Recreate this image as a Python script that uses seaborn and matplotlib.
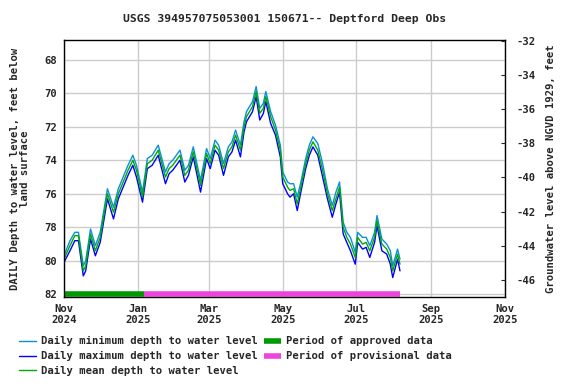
import pandas as pd
import seaborn as sns
import matplotlib.pyplot as plt

days = [0, 5, 9, 12, 16, 18, 22, 26, 30, 33, 36, 41, 45, 49, 53, 57, 60, 65, 69, 73,
        78, 84, 87, 90, 96, 100, 103, 107, 113, 118, 121, 125, 128, 132, 136, 139, 142, 146, 149, 151,
        156, 159, 162, 165, 167, 171, 175, 179, 181, 185, 187, 190, 193, 196, 200, 203, 206, 210, 214, 218,
        222, 225, 228, 231, 234, 237, 241, 243, 247, 250, 253, 257, 259, 263, 267, 270, 272, 276, 278]

mean_depth = [79.9, 79.1, 78.5, 78.5, 80.6, 80.3, 78.4, 79.4, 78.6, 77.3, 76.0, 77.1, 76.0, 75.3, 74.6, 74.0, 74.6, 76.2, 74.2, 74.0,
              73.4, 75.0, 74.5, 74.3, 73.7, 74.9, 74.6, 73.5, 75.5, 73.6, 74.2, 73.1, 73.4, 74.5, 73.5, 73.2, 72.5, 73.4, 72.0, 71.4,
              70.8, 69.9, 71.2, 70.9, 70.2, 71.4, 72.2, 73.4, 75.0, 75.6, 75.8, 75.7, 76.6, 75.6, 74.2, 73.4, 72.9, 73.4, 74.6, 76.0,
              77.0, 76.3, 75.6, 78.0, 78.6, 79.0, 79.8, 78.6, 79.0, 78.9, 79.4, 78.6, 77.6, 79.0, 79.3, 79.8, 80.6, 79.6, 80.2]

min_depth = [79.7, 78.8, 78.3, 78.3, 80.3, 80.0, 78.1, 79.1, 78.3, 77.0, 75.7, 76.8, 75.7, 75.0, 74.3, 73.7, 74.3, 75.9, 73.9, 73.7,
             73.1, 74.7, 74.2, 74.0, 73.4, 74.6, 74.3, 73.2, 75.2, 73.3, 73.9, 72.8, 73.1, 74.2, 73.2, 72.9, 72.2, 73.1, 71.7, 71.1,
             70.5, 69.6, 70.9, 70.6, 69.9, 71.1, 71.9, 73.1, 74.7, 75.3, 75.4, 75.4, 76.2, 75.3, 73.9, 73.1, 72.6, 73.0, 74.2, 75.7,
             76.7, 75.9, 75.3, 77.7, 78.3, 78.6, 79.5, 78.3, 78.6, 78.6, 79.1, 78.3, 77.3, 78.7, 79.0, 79.4, 80.3, 79.3, 79.9]

max_depth = [80.1, 79.4, 78.8, 78.8, 80.9, 80.6, 78.7, 79.7, 78.9, 77.6, 76.3, 77.5, 76.3, 75.6, 74.9, 74.3, 75.0, 76.5, 74.5, 74.3,
             73.7, 75.4, 74.8, 74.6, 74.0, 75.3, 74.9, 73.8, 75.9, 73.9, 74.5, 73.4, 73.7, 74.9, 73.8, 73.5, 72.8, 73.8, 72.3, 71.7,
             71.1, 70.2, 71.6, 71.2, 70.5, 71.8, 72.5, 73.8, 75.4, 76.0, 76.2, 76.0, 77.0, 75.9, 74.5, 73.7, 73.2, 73.7, 75.0, 76.3,
             77.4, 76.6, 75.9, 78.4, 78.9, 79.4, 80.2, 78.9, 79.3, 79.2, 79.8, 78.9, 77.9, 79.4, 79.6, 80.2, 81.0, 79.9, 80.6]

start = pd.Timestamp("2024-11-01")
dates = start + pd.to_timedelta(days, unit="D")

approved_period = ["2024-11-01", "2025-01-06"]
provisional_period = ["2025-01-06", "2025-08-06"]

month_ticks = pd.date_range("2024-11-01", "2025-11-01", freq="2MS")
month_labels = [d.strftime("%b\n%Y") for d in month_ticks]

sns.set_style("white")
plt.rcParams["font.family"] = ["DejaVu Sans Mono"]
plt.rcParams["font.weight"] = "bold"
plt.rcParams["axes.titleweight"] = "bold"
plt.rcParams["axes.labelweight"] = "bold"
plt.rcParams["axes.unicode_minus"] = False

fig = plt.figure(figsize=(5.76, 3.84), dpi=100)
ax = fig.add_axes([0.111, 0.227, 0.766, 0.669])

df = pd.DataFrame({"date": dates, "min": min_depth, "max": max_depth, "mean": mean_depth})

sns.lineplot(data=df, x="date", y="min", ax=ax, color="#0a8fdc", lw=1,
             label="Daily minimum depth to water level")
sns.lineplot(data=df, x="date", y="max", ax=ax, color="#0000ff", lw=1,
             label="Daily maximum depth to water level")
sns.lineplot(data=df, x="date", y="mean", ax=ax, color="#00aa00", lw=1,
             label="Daily mean depth to water level")

ax.plot(pd.to_datetime(approved_period), [82, 82], color="#009900", lw=4,
        solid_capstyle="butt", label="Period of approved data")
ax.plot(pd.to_datetime(provisional_period), [82, 82], color="#ee44dd", lw=4,
        solid_capstyle="butt", label="Period of provisional data")

ax.set_xlim(pd.Timestamp("2024-11-01"), pd.Timestamp("2025-11-01"))
ax.set_ylim(82.15, 66.82)
ax.set_yticks([68, 70, 72, 74, 76, 78, 80, 82])
ax.set_xticks(month_ticks)
ax.set_xticklabels(month_labels)
ax.grid(True, color="#cccccc", lw=1)
ax.tick_params(labelsize=7.6, length=0, pad=5)
for lab in ax.get_xticklabels() + ax.get_yticklabels():
    lab.set_fontweight("bold")
for s in ax.spines.values():
    s.set_color("black")
    s.set_linewidth(1)

ax.set_xlabel("")
ax.set_ylabel("DAILY Depth to water level, feet below\nland surface", fontsize=7.6,
              fontweight="bold", labelpad=10, linespacing=1.0)
ax.set_title("USGS 394957075053001 150671-- Deptford Deep Obs", fontsize=8.2,
             fontweight="bold", pad=13)

ax2 = ax.twinx()
ax2.set_ylim(-47.0, -31.94)
ax2.set_yticks([-46, -44, -42, -40, -38, -36, -34, -32])
ax2.tick_params(labelsize=7.6, length=3, direction="in", pad=8)
for lab in ax2.get_yticklabels():
    lab.set_fontweight("bold")
ax2.set_ylabel("Groundwater level above NGVD 1929, feet", fontsize=7.6,
               fontweight="bold", labelpad=8)
for s in ax2.spines.values():
    s.set_visible(False)

handles, labels = ax.get_legend_handles_labels()
ax.get_legend().remove()
fig.legend(handles, labels, loc="upper left", bbox_to_anchor=(0.025, 0.135), ncol=2,
           frameon=False, prop={"size": 7.6, "weight": "bold"}, handlelength=1.6,
           handletextpad=0.5, labelspacing=0.45, columnspacing=0.6, borderaxespad=0)

fig.savefig("out.png", dpi=100)
